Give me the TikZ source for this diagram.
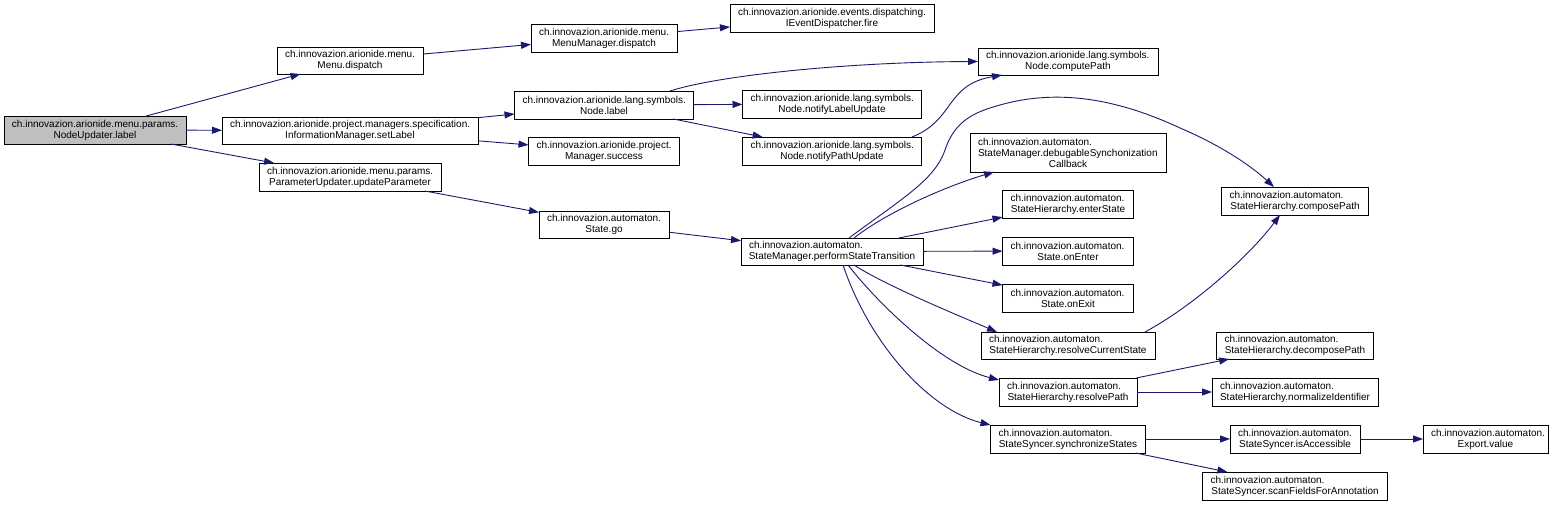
\documentclass[tikz,border=0pt]{standalone}
\usepackage{fontspec}
\setmainfont{Liberation Sans}
\usetikzlibrary{arrows.meta}
\definecolor{edgeblue}{RGB}{25,25,112}
\definecolor{startgray}{RGB}{191,191,191}
\newcommand{\dxl}[1]{\hspace*{8pt}#1}
\newcommand{\dxc}[1]{\makebox[\hsize][c]{#1}}
\tikzset{
  dbox/.style={draw=black, fill=white, line width=0.9pt, font=\fontsize{10}{11}\selectfont,
    align=left, inner xsep=0pt, inner ysep=0pt, outer sep=0pt},
  dedge/.style={draw=edgeblue, line width=0.9pt, -{Triangle[length=10pt,width=7pt]}, edgeblue}
}
\begin{document}
\begin{tikzpicture}[x=1pt,y=-1pt]
\useasboundingbox (0,0) rectangle (1555,505);
% rank 1
\node[dbox, fill=startgray, text width=182pt, minimum height=28pt] (n0) at (95,130) {\dxl{ch.innovazion.arionide.menu.params.}\\\dxc{NodeUpdater.label}};
% rank 2
\node[dbox, text width=146pt, minimum height=27pt] (menu) at (350,60.5) {\dxl{ch.innovazion.arionide.menu.}\\\dxc{Menu.dispatch}};
\node[dbox, text width=256pt, minimum height=27pt] (setl) at (350,130.5) {\dxl{ch.innovazion.arionide.project.managers.specification.}\\\dxc{InformationManager.setLabel}};
\node[dbox, text width=182pt, minimum height=28pt] (pu) at (350,177) {\dxl{ch.innovazion.arionide.menu.params.}\\\dxc{ParameterUpdater.updateParameter}};
% rank 3
\node[dbox, text width=146pt, minimum height=28pt] (mm) at (604,38) {\dxl{ch.innovazion.arionide.menu.}\\\dxc{MenuManager.dispatch}};
\node[dbox, text width=179pt, minimum height=28pt] (nlabel) at (604,105) {\dxl{ch.innovazion.arionide.lang.symbols.}\\\dxc{Node.label}};
\node[dbox, text width=151pt, minimum height=28pt] (succ) at (604,151) {\dxl{ch.innovazion.arionide.project.}\\\dxc{Manager.success}};
\node[dbox, text width=130pt, minimum height=27pt] (go) at (604,224.5) {\dxl{ch.innovazion.automaton.}\\\dxc{State.go}};
% rank 4
\node[dbox, text width=204pt, minimum height=28pt] (fire) at (832,18) {\dxl{ch.innovazion.arionide.events.dispatching.}\\\dxc{IEventDispatcher.fire}};
\node[dbox, text width=179pt, minimum height=28pt] (nlu) at (832,104) {\dxl{ch.innovazion.arionide.lang.symbols.}\\\dxc{Node.notifyLabelUpdate}};
\node[dbox, text width=179pt, minimum height=28pt] (npu) at (832,151) {\dxl{ch.innovazion.arionide.lang.symbols.}\\\dxc{Node.notifyPathUpdate}};
\node[dbox, text width=182pt, minimum height=27pt] (pst) at (832,251.5) {\dxl{ch.innovazion.automaton.}\\\dxc{StateManager.performStateTransition}};
% rank 5
\node[dbox, text width=180pt, minimum height=27pt] (cpath) at (1068,61.5) {\dxl{ch.innovazion.arionide.lang.symbols.}\\\dxc{Node.computePath}};
\node[dbox, text width=196pt, minimum height=39pt] (dbg) at (1068,152.5) {\dxl{ch.innovazion.automaton.}\\\dxl{StateManager.debugableSynchonization}\\\dxc{Callback}};
\node[dbox, text width=131pt, minimum height=28pt] (ent) at (1068,204) {\dxl{ch.innovazion.automaton.}\\\dxc{StateHierarchy.enterState}};
\node[dbox, text width=131pt, minimum height=28pt] (onen) at (1068,251) {\dxl{ch.innovazion.automaton.}\\\dxc{State.onEnter}};
\node[dbox, text width=131pt, minimum height=28pt] (onex) at (1068,298) {\dxl{ch.innovazion.automaton.}\\\dxc{State.onExit}};
\node[dbox, text width=174pt, minimum height=27pt] (rcs) at (1068,345.5) {\dxl{ch.innovazion.automaton.}\\\dxc{StateHierarchy.resolveCurrentState}};
\node[dbox, text width=138pt, minimum height=28pt] (rp) at (1068,392) {\dxl{ch.innovazion.automaton.}\\\dxc{StateHierarchy.resolvePath}};
\node[dbox, text width=155pt, minimum height=28pt] (sync) at (1068,439) {\dxl{ch.innovazion.automaton.}\\\dxc{StateSyncer.synchronizeStates}};
% rank 6
\node[dbox, text width=147pt, minimum height=28pt] (cmp) at (1295,201) {\dxl{ch.innovazion.automaton.}\\\dxc{StateHierarchy.composePath}};
\node[dbox, text width=157pt, minimum height=27pt] (dec) at (1295,345.5) {\dxl{ch.innovazion.automaton.}\\\dxc{StateHierarchy.decomposePath}};
\node[dbox, text width=166pt, minimum height=28pt] (norm) at (1295,392) {\dxl{ch.innovazion.automaton.}\\\dxc{StateHierarchy.normalizeIdentifier}};
\node[dbox, text width=130pt, minimum height=28pt] (acc) at (1295,439) {\dxl{ch.innovazion.automaton.}\\\dxc{StateSyncer.isAccessible}};
\node[dbox, text width=185pt, minimum height=28pt] (scan) at (1295,486) {\dxl{ch.innovazion.automaton.}\\\dxc{StateSyncer.scanFieldsForAnnotation}};
% rank 7
\node[dbox, text width=125pt, minimum height=28pt] (exp) at (1485.5,439) {\dxl{ch.innovazion.automaton.}\\\dxc{Export.value}};
% edges
\draw[dedge] (n0) -- (menu);
\draw[dedge] (n0) -- (setl);
\draw[dedge] (n0) -- (pu);
\draw[dedge] (menu) -- (mm);
\draw[dedge] (mm) -- (fire);
\draw[dedge] (setl) -- (nlabel);
\draw[dedge] (setl) -- (succ);
\draw[dedge] (pu) -- (go);
\draw[dedge] ([xshift=66pt]nlabel.north) .. controls (720,75) and (850,62) .. (cpath.west);
\draw[dedge] (nlabel) -- (nlu);
\draw[dedge] (nlabel) -- (npu);
\draw[dedge] ([xshift=80pt]npu.north) .. controls (955,120) and (945,85) .. ([xshift=-66pt]cpath.south);
\draw[dedge] (go) -- (pst);
\draw[dedge] ([xshift=22pt]pst.north) .. controls (890,210) and (950,185) .. ([xshift=-74pt]dbg.south);
\draw[dedge] ([xshift=17pt]pst.north) .. controls (900,200) and (935,180) .. (945,150)
  .. controls (955,120) and (975,112) .. (1000,105)
  .. controls (1060,88) and (1120,100) .. (1180,128)
  .. controls (1220,145) and (1250,165) .. ([xshift=-21pt]cmp.north);
\draw[dedge] (pst) -- (ent);
\draw[dedge] (pst) -- (onen);
\draw[dedge] (pst) -- (onex);
\draw[dedge] ([xshift=22pt]pst.south) .. controls (885,285) and (950,312) .. ([xshift=-71pt]rcs.north);
\draw[dedge] ([xshift=16pt]pst.south) .. controls (875,300) and (940,365) .. ([yshift=12pt]rp.west);
\draw[dedge] ([xshift=11pt]pst.south) .. controls (870,345) and (930,410) .. (sync.north west);
\draw[dedge] ([xshift=77pt]rcs.north) .. controls (1195,305) and (1250,255) .. ([xshift=-15pt]cmp.south);
\draw[dedge] (rp) -- (dec);
\draw[dedge] (rp) -- (norm);
\draw[dedge] (sync) -- (acc);
\draw[dedge] (sync) -- (scan);
\draw[dedge] (acc) -- (exp);
\end{tikzpicture}
\end{document}
